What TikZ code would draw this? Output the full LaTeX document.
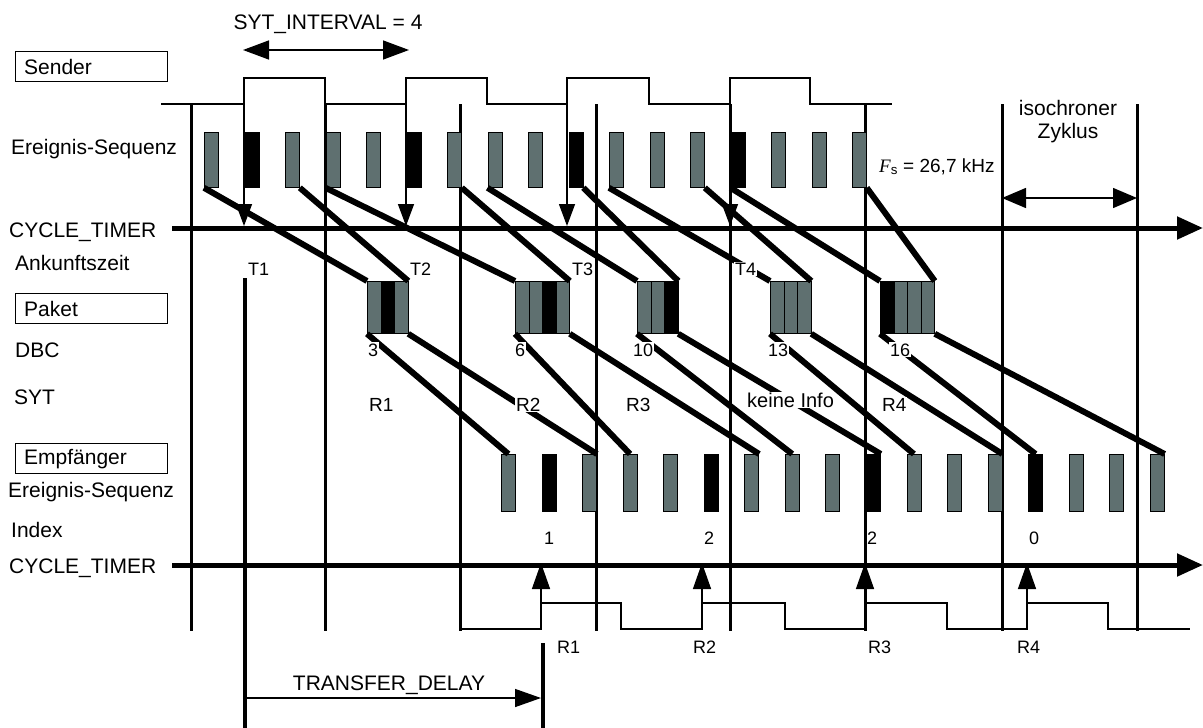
\documentclass[tikz,border=0pt]{standalone}
\usepackage{fontspec}
\setmainfont{Liberation Sans}
\newfontfamily\fsfont{Liberation Serif}
\usetikzlibrary{arrows.meta}
\definecolor{bargray}{RGB}{95,112,112}

\begin{document}
\begin{tikzpicture}[x=1pt,y=-1pt,
  bar/.style={draw=black,line width=0.8pt,inner sep=0pt,minimum width=14pt,anchor=north west},
  link/.style={line width=6pt},
  cyc/.style={line width=3pt},
  wave/.style={line width=1.4pt},
  lbl/.style={font=\fontsize{21}{24}\selectfont,anchor=base west,inner sep=0pt},
  tag/.style={anchor=base west,inner sep=1pt,fill=white},
  box/.style={draw,line width=1.4pt,anchor=north west,minimum height=30pt,text width=134pt,
    inner xsep=9pt,inner ysep=0pt,align=left,font=\fontsize{21}{24}\selectfont}]
  \useasboundingbox (0,0) rectangle (1203,728);

  \foreach \x in {191,325,460,596,730,865,1002,1137}
    \draw[cyc] (\x,104) -- (\x,631);
  \draw[line width=4pt] (245,278) -- (245,728);
  \draw[line width=4pt] (543,643) -- (543,728);

  \draw[wave] (161,104) -- (244,104) -- (244,78) -- (325,78) -- (325,104) -- (406,104) -- (406,78)
    -- (487,78) -- (487,104) -- (567,104) -- (567,78) -- (649,78) -- (649,104) -- (730,104)
    -- (730,78) -- (810,78) -- (810,104) -- (892,104);
  \draw[wave] (460,629) -- (541,629) -- (541,603) -- (621,603) -- (621,629) -- (702,629) -- (702,603)
    -- (785,603) -- (785,629) -- (865,629) -- (865,603) -- (947,603) -- (947,629) -- (1027,629)
    -- (1027,603) -- (1108,603) -- (1108,629) -- (1190,629);

  \draw[line width=5pt,-{Triangle[length=26pt,width=22pt]}] (172,228) -- (1203,228);
  \draw[line width=5pt,-{Triangle[length=26pt,width=22pt]}] (172,565) -- (1203,565);

  \foreach \i in {0,...,16}{
    \pgfmathtruncatemacro\m{mod(\i,4)}
    \ifnum\m=1 \def\barcol{black}\else\def\barcol{bargray}\fi
    \node[bar,fill=\barcol,minimum height=55pt] (s\i) at ({204+40.5*\i},132) {};
    \node[bar,fill=\barcol,minimum height=57pt] (r\i) at ({501+40.55*\i},454) {};
  }
  \foreach \k/\x/\col in {0/367/bargray,1/380.5/black,2/394/bargray,3/515/bargray,4/528.5/bargray,
      5/542/black,6/555.5/bargray,7/637/bargray,8/650.5/bargray,9/664/black,10/770/bargray,
      11/783.5/bargray,12/797/bargray,13/880/black,14/893.5/bargray,15/907/bargray,16/920.5/bargray}
    \node[bar,fill=\col,minimum width=13.5pt,minimum height=52pt] (q\k) at (\x,281) {};

  \foreach \a/\b in {0/2,3/6,7/9,10/12,13/16}{
    \draw[link] (s\a.south west) -- (q\a.north west);
    \draw[link] (s\b.south east) -- (q\b.north east);
    \draw[link] (q\a.south west) -- (r\a.north);
    \draw[link] (q\b.south east) -- (r\b.north east);
  }

  \foreach \x in {244,406,567,730}
    \draw[wave,-{Triangle[length=22pt,width=16pt]}] (\x,104) -- (\x,226);
  \foreach \x in {541,702,865,1027}
    \draw[wave,-{Triangle[length=26pt,width=18pt]}] (\x,603) -- (\x,563);
  \draw[wave,{Triangle[length=26pt,width=19pt]}-{Triangle[length=26pt,width=19pt]}] (243,50) -- (409,50);
  \draw[wave,{Triangle[length=24pt,width=20pt]}-{Triangle[length=24pt,width=20pt]}] (1002,198) -- (1137,198);
  \draw[wave,-{Triangle[length=26pt,width=18pt]}] (245,698) -- (541,698);

  \node[box] (sender) at (14.5,51) {Sender};
  \node[box] (paket) at (14.5,293) {Paket};
  \node[box] (empf) at (14.5,443) {Empfänger};
  \node[lbl,anchor=base] (sytint) at (328,30) {SYT\_INTERVAL = 4};
  \node[lbl] (evs) at (11,154) {Ereignis-Sequenz};
  \node[lbl] (ct1) at (9,237) {CYCLE\_TIMER};
  \node[lbl] (ank) at (15,270) {Ankunftszeit};
  \node[lbl] (dbc) at (15,357) {DBC};
  \node[lbl] (syt) at (14,404) {SYT};
  \node[lbl] (evr) at (8,497) {Ereignis-Sequenz};
  \node[lbl] (idx) at (11,537) {Index};
  \node[lbl] (ct2) at (9,573) {CYCLE\_TIMER};
  \node[lbl,anchor=base] (iso1) at (1068,115) {isochroner};
  \node[lbl,anchor=base] (iso2) at (1068,138) {Zyklus};
  \node[lbl,anchor=base] (tdl) at (389,690) {TRANSFER\_DELAY};
  \node[lbl,font=\fontsize{19}{21}\selectfont] (fs) at (879,172) {{\fsfont\itshape F}\textsubscript{s} = 26,7 kHz};

  \foreach \n/\x in {1/247,2/409,3/571,4/734}
    \node[tag,font=\fontsize{18}{20}\selectfont] (t\n) at (\x,275) {T\n};
  \foreach \n/\x in {3/367,6/514,10/632,13/767,16/889}
    \node[tag,font=\fontsize{18}{20}\selectfont] (dbc\n) at (\x,356) {\n};
  \foreach \n/\x in {1/368,2/515,3/625,4/881}
    \node[tag,font=\fontsize{19}{21}\selectfont] (syt\n) at (\x,411) {R\n};
  \node[tag,font=\fontsize{20}{22}\selectfont] (noinfo) at (746,407) {keine Info};
  \foreach \k/\n/\x in {a/1/544,b/2/704,c/2/867,d/0/1029}
    \node[anchor=base west,inner sep=0pt,font=\fontsize{18}{20}\selectfont] (idx\k) at (\x,544) {\n};
  \foreach \n/\x in {1/557,2/693,3/868,4/1017}
    \node[anchor=base west,inner sep=0pt,font=\fontsize{18}{20}\selectfont] (rx\n) at (\x,653) {R\n};
\end{tikzpicture}
\end{document}
